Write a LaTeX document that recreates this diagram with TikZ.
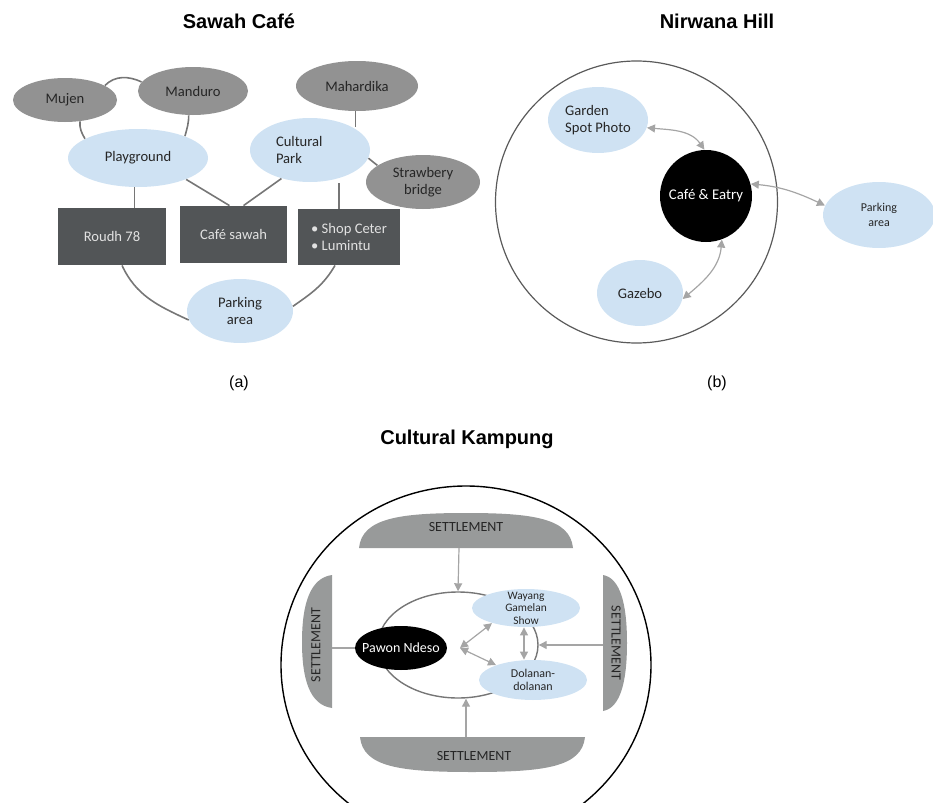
\documentclass[tikz,border=0pt]{standalone}
\usepackage{fontspec}
\setmainfont{Carlito}
\newfontfamily\arialfont{Liberation Sans}
\usetikzlibrary{shapes.geometric, arrows.meta}

\definecolor{lightblue}{RGB}{207,226,243}
\definecolor{midgrey}{RGB}{146,146,146}
\definecolor{darkgrey}{RGB}{82,85,87}
\definecolor{linegrey}{RGB}{118,118,118}
\definecolor{arrgrey}{RGB}{165,165,165}
\definecolor{setgrey}{RGB}{152,154,154}
\definecolor{inkgrey}{RGB}{38,38,38}

\tikzset{
  title/.style={font=\arialfont\bfseries\fontsize{10}{12}\selectfont},
  caption/.style={font=\arialfont\fontsize{8}{10}\selectfont},
  blueell/.style={ellipse, fill=lightblue, inner sep=0pt, align=center, text=inkgrey, font=\fontsize{7.3}{8.4}\selectfont},
  greyell/.style={ellipse, fill=midgrey, inner sep=0pt, align=center, text=inkgrey, font=\fontsize{7.3}{8.4}\selectfont},
  darkbox/.style={rectangle, fill=darkgrey, inner sep=0pt, align=center, text={rgb,255:red,225;green,225;blue,225}, font=\fontsize{7.3}{8.4}\selectfont},
  settext/.style={text=inkgrey, font=\fontsize{7}{8}\selectfont},
  link/.style={draw=linegrey, line width=0.8pt},
  thinlink/.style={draw=arrgrey, line width=0.6pt},
  oneway/.style={thinlink, -{Triangle[length=4pt,width=4pt]}},
  twoway/.style={thinlink, {Triangle[length=4pt,width=4pt]}-{Triangle[length=4pt,width=4pt]}},
}

\begin{document}
\begin{tikzpicture}[x=0.5pt, y=0.5pt]

\clip (0,0) rectangle (933,-803);

% Sawah Cafe
\node [title] (titleA) at (239,-21) {Sawah Café};

\node [greyell, minimum width=52pt, minimum height=22pt] (mujen) at (65,-100) {Mujen};
\node [greyell, minimum width=55pt, minimum height=24pt] (manduro) at (193,-91) {Manduro};
\node [greyell, minimum width=61pt, minimum height=25pt] (mahardika) at (357,-86) {Mahardika};
\node [blueell, minimum width=70pt, minimum height=29pt] (playground) at (138,-158) {Playground};
\node [blueell, align=left, text width=34pt, minimum width=60pt, minimum height=32pt] (culturalpark) at (310,-150) {Cultural\\Park};
\node [greyell, minimum width=57pt, minimum height=27pt] (strawbery) at (423,-182) {Strawbery\\bridge};

\node [darkbox, minimum width=54pt, minimum height=28.5pt] (roudh) at (112,-236.5) {Roudh 78};
\node [darkbox, minimum width=53.5pt, minimum height=28.5pt] (cafesawah) at (233.5,-234.5) {Café sawah};
\node [darkbox, align=left, minimum width=51pt, minimum height=28pt] (shop) at (349,-237) {• Shop Ceter\\• Lumintu};

\node [blueell, minimum width=53pt, minimum height=32pt] (parkA) at (240,-311) {Parking\\area};

\draw [link] (mujen.20) to[out=45,in=155] (manduro.170);
\draw [link] (mujen.-55) to[out=-95,in=120] (playground.160);
\draw [link] (manduro.-100) to[out=-90,in=75] (playground.25);
\draw [link] (playground.-97) -- (playground.-97 |- roudh.north);
\draw [link] (playground.-24) -- ([xshift=-2pt]cafesawah.north);
\draw [link] (culturalpark.-135) -- ([xshift=5pt]cafesawah.north);
\draw [link] (mahardika.-93) -- (mahardika.-93 |- culturalpark.28);
\draw [link] (culturalpark.-8) -- (strawbery.160);
\draw [link] ([xshift=-5pt]shop.north) -- ++(0,26);
\draw [link] ([xshift=5pt]roudh.south) to[out=-65,in=155] (parkA.190);
\draw [link] ([xshift=-7pt]shop.south) to[out=-120,in=35] (parkA.5);

\node [caption] (capA) at (239,-383) {(a)};

% Nirwana Hill
\node [title] (titleB) at (717,-21) {Nirwana Hill};

\node [circle, draw={rgb,255:red,90;green,90;blue,90}, line width=0.6pt, minimum size=141pt, inner sep=0pt] (hill) at (636.5,-202) {};

\node [blueell, align=left, minimum width=50pt, minimum height=33pt] (garden) at (598,-120) {Garden\\Spot Photo};
\node [circle, fill=black, text=white, minimum size=46pt, inner sep=0pt, font=\fontsize{7.4}{8.4}\selectfont] (eatry) at (706,-196) {Café \& Eatry};
\node [blueell, minimum width=43pt, minimum height=33pt] (gazebo) at (640,-293) {Gazebo};
\node [blueell, font=\fontsize{6}{7.2}\selectfont, minimum width=56pt, minimum height=33pt] (parkB) at (879,-215) {Parking\\area};

\draw [twoway] (garden.-9) to[out=-5,in=125] (eatry.92);
\draw [twoway] (eatry.15) to[out=-5,in=155] (parkB.170);
\draw [twoway] (eatry.-70) to[out=-95,in=40] (gazebo.-8);

\node [caption] (capB) at (717,-383) {(b)};

% Cultural Kampung
\node [title] (titleC) at (467,-439) {Cultural Kampung};

\node [ellipse, draw=black, line width=0.7pt, minimum width=185pt, minimum height=179pt, inner sep=0pt] (kampung) at (466,-665) {};

\fill [setgrey] (359,-548) .. controls (362,-518) and (400,-513) .. (466,-513) .. controls (532,-513) and (570,-518) .. (573,-548) -- cycle;
\node [settext] (setTop) at (466,-527) {SETTLEMENT};
\coordinate (setTopIn) at (459,-548);

\fill [setgrey] (360,-737) -- (585,-737) .. controls (582,-767) and (545,-772) .. (472,-772) .. controls (400,-772) and (363,-767) .. (360,-737) -- cycle;
\node [settext] (setBottom) at (474,-756) {SETTLEMENT};
\coordinate (setBottomIn) at (466,-737);

\fill [setgrey] (332,-575) -- (332,-708) .. controls (310,-705) and (302,-680) .. (302,-642) .. controls (302,-604) and (310,-578) .. (332,-575) -- cycle;
\node [settext, rotate=90] (setLeft) at (316,-645) {SETTLEMENT};
\coordinate (setLeftIn) at (332,-648);

\fill [setgrey] (603,-575) -- (603,-711) .. controls (620,-708) and (627,-683) .. (627,-643) .. controls (627,-603) and (620,-578) .. (603,-575) -- cycle;
\node [settext, rotate=-90] (setRight) at (616,-643) {SETTLEMENT};
\coordinate (setRightIn) at (603,-645);

\node [ellipse, draw=linegrey, line width=0.7pt, minimum width=80pt, minimum height=53pt, inner sep=0pt] (ring) at (458,-645) {};

\node [ellipse, fill=black, text=white, minimum width=46pt, minimum height=22pt, inner xsep=-5pt, inner ysep=0pt, font=\fontsize{7}{8}\selectfont] (pawon) at (401,-648) {Pawon Ndeso};
\node [blueell, inner ysep=-3pt, font=\fontsize{5.7}{6.3}\selectfont, minimum width=54pt, minimum height=19pt] (wayang) at (526,-608) {Wayang\\Gamelan\\Show};
\node [blueell, font=\fontsize{6}{6.6}\selectfont, minimum width=54pt, minimum height=20pt] (dolanan) at (533,-680) {Dolanan-\\dolanan};

\coordinate (hub) at (460,-648);

\draw [oneway] (setTopIn) -- (ring.north);
\draw [oneway] (setBottomIn) -- (setBottomIn |- ring.south);
\draw [oneway] (setRightIn) -- (ring.east);
\draw [thinlink] (setLeftIn) -- (pawon.west);
\draw [twoway] (hub) -- (wayang.204);
\draw [twoway] (hub) -- (dolanan.158);
\draw [twoway] ([xshift=-1pt]wayang.south) -- ([xshift=-1pt]wayang.south |- dolanan.north);

\end{tikzpicture}
\end{document}
